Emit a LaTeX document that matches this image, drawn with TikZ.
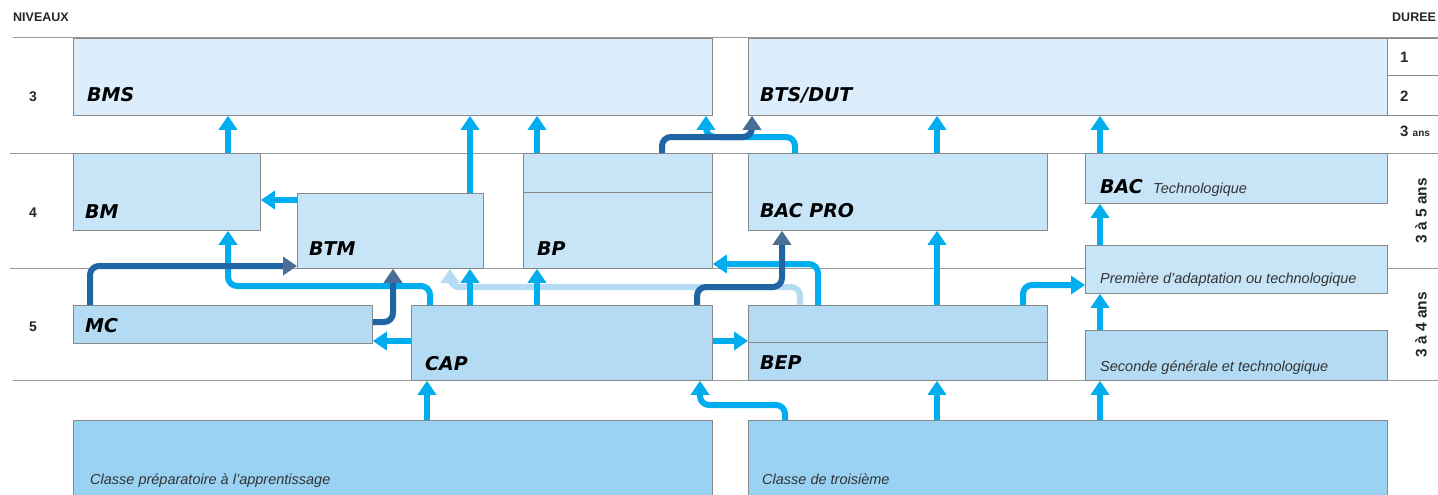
\documentclass[tikz,border=0pt]{standalone}
\usepackage{fontspec}
\setmainfont{Liberation Sans}
\newfontfamily\labfont{DejaVu Sans}
\usetikzlibrary{arrows.meta}
\definecolor{boxtop}{HTML}{DCEEFB}
\definecolor{boxmid}{HTML}{C8E5F8}
\definecolor{boxlow}{HTML}{B3DCF4}
\definecolor{boxbot}{HTML}{99D2F3}
\definecolor{arrcyan}{HTML}{00AEEF}
\definecolor{arrdark}{HTML}{1F64A3}
\definecolor{arrdarkhead}{HTML}{4A6E96}
\definecolor{arrpale}{HTML}{B5DCF5}
\definecolor{rulegray}{HTML}{9A9A9A}
\definecolor{edgegray}{HTML}{888888}
\tikzset{
  lvl/.style={draw=rulegray, line width=1pt},
  box/.style={draw=edgegray, line width=0.8pt, anchor=north west, inner sep=0pt, rectangle},
  boxa/.style={box, fill=boxtop},
  boxb/.style={box, fill=boxmid},
  boxc/.style={box, fill=boxlow},
  boxd/.style={box, fill=boxbot},
  lab/.style={anchor=base west, inner sep=0pt, font=\labfont\bfseries\itshape\fontsize{19}{22}\selectfont},
  small/.style={anchor=base west, inner sep=0pt, font=\itshape\fontsize{14.5}{17}\selectfont, text=black!80},
  tiny/.style={inner sep=0pt, font=\bfseries\fontsize{12.5}{14}\selectfont, text=black!85},
  rot/.style={inner sep=0pt, rotate=90, font=\bfseries\fontsize{15.5}{17}\selectfont, text=black!85},
  arr/.style={draw=arrcyan, line width=6pt, rounded corners=9pt, -{Triangle[width=18pt,length=14pt]}},
  darr/.style={draw=arrdark, line width=6pt, rounded corners=9pt, -{Triangle[width=18pt,length=14pt,color=arrdarkhead]}},
  parr/.style={draw=arrpale, line width=6pt, rounded corners=9pt, -{Triangle[width=18pt,length=14pt]}},
}
\begin{document}
\begin{tikzpicture}[x=1pt, y=-1pt]
\useasboundingbox (0,0) rectangle (1438,495);
\clip (0,0) rectangle (1438,495);
\fill[white] (0,0) rectangle (1438,495);

% level rules
\draw[lvl] (13,38) -- (1438,38);
\draw[lvl] (10,153) -- (1438,153);
\draw[lvl] (10,268) -- (1438,268);
\draw[lvl] (13,380) -- (1438,380);

% header texts
\node[tiny, anchor=base west] (niv) at (13,22) {NIVEAUX};
\node[tiny, anchor=base west] (dur) at (1392,22) {DUREE};
\node[tiny, anchor=base, font=\bfseries\fontsize{14}{16}\selectfont] (n3) at (33,101) {3};
\node[tiny, anchor=base, font=\bfseries\fontsize{14}{16}\selectfont] (n4) at (33,217) {4};
\node[tiny, anchor=base, font=\bfseries\fontsize{14}{16}\selectfont] (n5) at (33,331) {5};

% duration column
\node[box, fill=white, minimum width=60pt, minimum height=37pt] (d1) at (1387,38) {};
\node[box, fill=white, minimum width=60pt, minimum height=40pt] (d2) at (1387,75) {};
\node[tiny, anchor=base west, font=\bfseries\fontsize{15}{17}\selectfont] (t1) at (1400,63) {1};
\node[tiny, anchor=base west, font=\bfseries\fontsize{15}{17}\selectfont] (t2) at (1400,101) {2};
\node[tiny, anchor=base west, font=\bfseries\fontsize{15}{17}\selectfont] (t3) at (1400,136) {3 {\fontsize{10}{11}\selectfont ans}};
\node[rot] (t35) at (1421,211) {3 à 5 ans};
\node[rot] (t34) at (1421,325) {3 à 4 ans};

% boxes
\node[boxa, minimum width=639pt, minimum height=77pt] (bms) at (73,38) {};
\node[boxa, minimum width=639pt, minimum height=77pt] (bts) at (748,38) {};
\node[boxb, minimum width=187pt, minimum height=77pt] (bm) at (73,153) {};
\node[boxb, minimum width=186pt, minimum height=75pt] (btm) at (297,193) {};
\node[boxb, minimum width=189pt, minimum height=39pt] (bptop) at (523,153) {};
\node[boxb, minimum width=189pt, minimum height=76pt] (bp) at (523,192) {};
\node[boxb, minimum width=299pt, minimum height=77pt] (bacpro) at (748,153) {};
\node[boxb, minimum width=302pt, minimum height=50pt] (bact) at (1085,153) {};
\node[boxb, minimum width=302pt, minimum height=48pt] (prem) at (1085,245) {};
\node[boxc, minimum width=299pt, minimum height=38pt] (mc) at (73,305) {};
\node[boxc, minimum width=301pt, minimum height=75pt] (cap) at (411,305) {};
\node[boxc, minimum width=299pt, minimum height=37pt] (beptop) at (748,305) {};
\node[boxc, minimum width=299pt, minimum height=38pt] (bep) at (748,342) {};
\node[boxc, minimum width=302pt, minimum height=50pt] (sec) at (1085,330) {};
\node[boxd, minimum width=639pt, minimum height=95pt] (prep) at (73,420) {};
\node[boxd, minimum width=639pt, minimum height=95pt] (troi) at (748,420) {};

% labels
\node[lab] (lbms) at (87,101) {BMS};
\node[lab] (lbts) at (760,101) {BTS/DUT};
\node[lab] (lbm) at (85,218) {BM};
\node[lab] (lbtm) at (309,255) {BTM};
\node[lab] (lbp) at (537,255) {BP};
\node[lab] (lbacpro) at (760,217) {BAC PRO};
\node[lab] (lbac) at (1100,193) {BAC};
\node[small] (ltech) at (1153,193) {Technologique};
\node[small] (lprem) at (1100,283) {Première d'adaptation ou technologique};
\node[lab] (lmc) at (85,332) {MC};
\node[lab] (lcap) at (425,370) {CAP};
\node[lab] (lbep) at (760,369) {BEP};
\node[small] (lsec) at (1100,371) {Seconde générale et technologique};
\node[small] (lprep) at (90,484) {Classe préparatoire à l'apprentissage};
\node[small] (ltroi) at (762,484) {Classe de troisième};

% reference columns and rows
\coordinate (x90) at (90,0);
\coordinate (x228) at (228,0);
\coordinate (x393) at (393,0);
\coordinate (x427) at (427,0);
\coordinate (x430) at (430,0);
\coordinate (x450) at (450,0);
\coordinate (x470) at (470,0);
\coordinate (x537) at (537,0);
\coordinate (x662) at (662,0);
\coordinate (x697) at (697,0);
\coordinate (x700) at (700,0);
\coordinate (x706) at (706,0);
\coordinate (x752) at (752,0);
\coordinate (x782) at (782,0);
\coordinate (x785) at (785,0);
\coordinate (x795) at (795,0);
\coordinate (x800) at (800,0);
\coordinate (x818) at (818,0);
\coordinate (x937) at (937,0);
\coordinate (x1023) at (1023,0);
\coordinate (x1100) at (1100,0);
\coordinate (y137) at (0,137);
\coordinate (y200) at (0,200);
\coordinate (y265) at (0,264);
\coordinate (y266) at (0,266);
\coordinate (y285) at (0,285);
\coordinate (y286) at (0,286);
\coordinate (y287) at (0,287);
\coordinate (y320) at (0,322);
\coordinate (y342) at (0,341);
\coordinate (y405) at (0,405);

% pale arrow
\draw[parr] (x800 |- beptop.north) |- (x450 |- y287) -- (x450 |- btm.south);

% cyan arrows
\draw[arr] (x228 |- bm.north) -- (x228 |- bms.south);
\draw[arr] (x470 |- btm.north) -- (x470 |- bms.south);
\draw[arr] (x537 |- bptop.north) -- (x537 |- bms.south);
\draw[arr] (x795 |- bacpro.north) |- (x706 |- y137) -- (x706 |- bms.south);
\draw[arr] (x937 |- bacpro.north) -- (x937 |- bts.south);
\draw[arr] (x1100 |- bact.north) -- (x1100 |- bts.south);
\draw[arr] (btm.west |- y200) -- (bm.east |- y200);
\draw[arr] (x430 |- cap.north) |- (x228 |- y286) -- (x228 |- bm.south);
\draw[arr] (x470 |- cap.north) -- (x470 |- btm.south);
\draw[arr] (x537 |- cap.north) -- (x537 |- bp.south);
\draw[arr] (cap.west |- y342) -- (mc.east |- y342);
\draw[arr] (cap.east |- y342) -- (beptop.west |- y342);
\draw[arr] (x818 |- beptop.north) |- (bp.east |- y265);
\draw[arr] (x937 |- beptop.north) -- (x937 |- bacpro.south);
\draw[arr] (x1023 |- beptop.north) |- (prem.west |- y285);
\draw[arr] (x1100 |- sec.north) -- (x1100 |- prem.south);
\draw[arr] (x1100 |- prem.north) -- (x1100 |- bact.south);
\draw[arr] (x427 |- prep.north) -- (x427 |- cap.south);
\draw[arr] (x785 |- troi.north) |- (x700 |- y405) -- (x700 |- cap.south);
\draw[arr] (x937 |- troi.north) -- (x937 |- bep.south);
\draw[arr] (x1100 |- troi.north) -- (x1100 |- sec.south);

% dark arrows
\draw[darr] (x662 |- bptop.north) |- (x752 |- y137) -- (x752 |- bts.south);
\draw[darr] (x90 |- mc.north) |- (btm.west |- y266);
\draw[darr] (mc.east |- y320) -| (x393 |- btm.south);
\draw[darr] (x697 |- cap.north) |- (x782 |- y287) -- (x782 |- bacpro.south);
\end{tikzpicture}
\end{document}
